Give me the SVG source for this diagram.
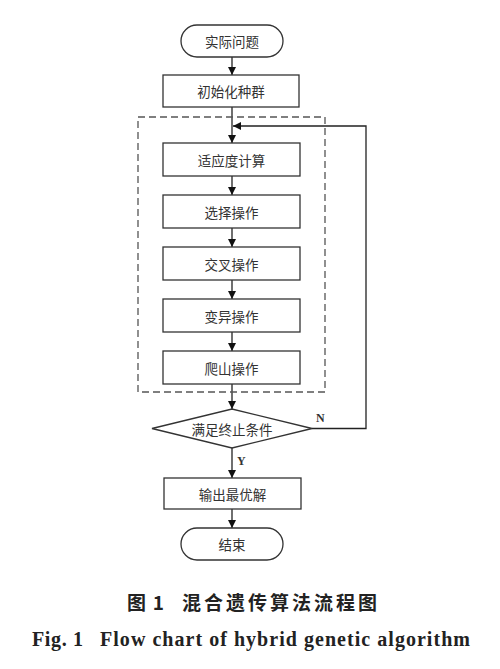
<svg xmlns="http://www.w3.org/2000/svg" width="500" height="669" viewBox="0 0 500 669">
<style>
.b{fill:#fff;stroke:#333;stroke-width:1.3}
.t{font-family:"Noto Sans CJK SC","Noto Sans",sans-serif;font-size:13.5px;fill:#333;text-anchor:middle;dominant-baseline:central}
.c{fill:none;stroke:#222;stroke-width:1.3}
.l{font-family:"Liberation Serif",serif;font-weight:bold;font-size:12px;fill:#333}
.cz{font-family:"Noto Sans CJK SC",sans-serif;font-weight:bold;font-size:19px;fill:#222}
.en{font-family:"Liberation Serif",serif;font-weight:bold;font-size:20px;fill:#222}
</style>
<defs>
<marker id="a" viewBox="0 0 10 10" refX="10" refY="5" markerWidth="8" markerHeight="8" markerUnits="userSpaceOnUse" orient="auto">
<path d="M0,0 L10,5 L0,10 Z" fill="#111"/>
</marker>
</defs>
<rect width="500" height="669" fill="#fff"/>
<g id="edges">
<path class="c" d="M232,57 V75" marker-end="url(#a)"/>
<path class="c" d="M232,107 V143" marker-end="url(#a)"/>
<path class="c" d="M232,176 V195" marker-end="url(#a)"/>
<path class="c" d="M232,228 V247" marker-end="url(#a)"/>
<path class="c" d="M232,280 V299" marker-end="url(#a)"/>
<path class="c" d="M232,332 V351" marker-end="url(#a)"/>
<path class="c" d="M232,384 V409" marker-end="url(#a)"/>
<path class="c" d="M232,448 V478" marker-end="url(#a)"/>
<path class="c" d="M232,509 V528" marker-end="url(#a)"/>
<path class="c" d="M312,428.5 H366 V126 H233" marker-end="url(#a)"/>
<text class="l" x="316" y="422">N</text>
<text class="l" x="237" y="465">Y</text>
</g>
<g id="group">
<rect x="138" y="117" width="187" height="275" fill="none" stroke="#555" stroke-width="1.3" stroke-dasharray="7,4"/>
</g>
<g id="start"><rect class="b" x="181" y="25" width="102" height="32" rx="16"/><text class="t" x="232" y="41">实际问题</text></g>
<g id="init"><rect class="b" x="163" y="75" width="136" height="32"/><text class="t" x="231" y="91">初始化种群</text></g>
<g id="fitness"><rect class="b" x="163" y="143" width="137" height="33"/><text class="t" x="231.5" y="159.5">适应度计算</text></g>
<g id="select"><rect class="b" x="163" y="195" width="137" height="33"/><text class="t" x="231.5" y="211.5">选择操作</text></g>
<g id="cross"><rect class="b" x="163" y="247" width="137" height="33"/><text class="t" x="231.5" y="263.5">交叉操作</text></g>
<g id="mutate"><rect class="b" x="163" y="299" width="137" height="33"/><text class="t" x="231.5" y="315.5">变异操作</text></g>
<g id="climb"><rect class="b" x="163" y="351" width="137" height="33"/><text class="t" x="231.5" y="367.5">爬山操作</text></g>
<g id="cond"><polygon class="b" points="152,428.5 232,409 312,428.5 232,448"/><text class="t" x="232" y="428.5">满足终止条件</text></g>
<g id="output"><rect class="b" x="164" y="478" width="137" height="31"/><text class="t" x="232.5" y="493.5">输出最优解</text></g>
<g id="end"><rect class="b" x="181" y="528" width="102" height="32" rx="16"/><text class="t" x="232" y="544">结束</text></g>
<g id="caption">
<text class="cz" x="127" y="610" textLength="37" lengthAdjust="spacing">图 1</text>
<text class="cz" x="182" y="610" textLength="195" lengthAdjust="spacing">混合遗传算法流程图</text>
<text class="en" x="32" y="646" textLength="51" lengthAdjust="spacing">Fig. 1</text>
<text class="en" x="100" y="646" textLength="370" lengthAdjust="spacing">Flow chart of hybrid genetic algorithm</text>
</g>
</svg>
